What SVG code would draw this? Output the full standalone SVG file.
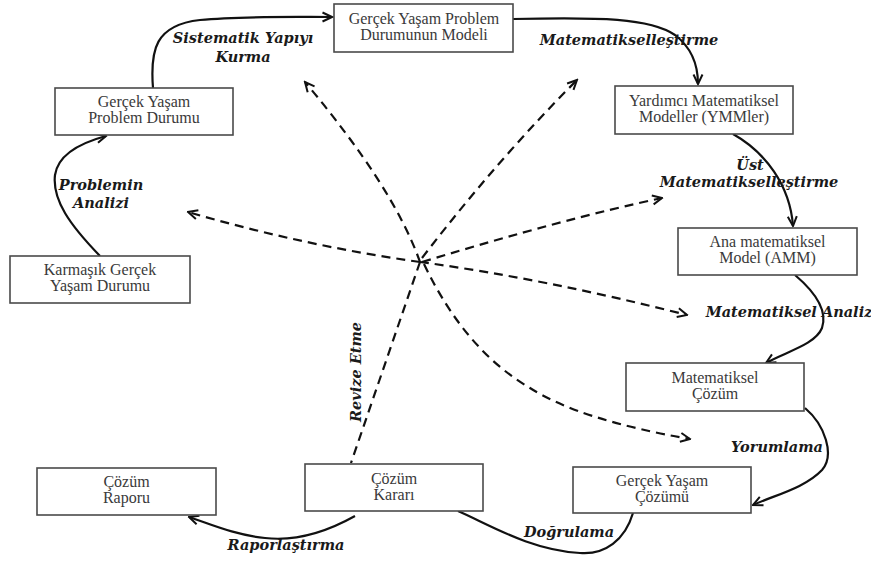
<svg xmlns="http://www.w3.org/2000/svg" width="871" height="561" viewBox="0 0 871 561">
<style>
.box{fill:#fff;stroke:#4a4a4a;stroke-width:1.6}
.bt{font-family:"Liberation Serif","Times New Roman",serif;font-size:16px;fill:#3a3a3a;text-anchor:middle}
.lb{font-family:"DejaVu Serif",serif;font-size:14.5px;font-weight:bold;font-style:italic;fill:#1a1a1a;text-anchor:middle}
.sc{fill:none;stroke:#111;stroke-width:2.2}
.dc{fill:none;stroke:#111;stroke-width:2.2;stroke-dasharray:9,6}
</style>
<defs>
<marker id="ah" viewBox="0 0 12 12" markerUnits="userSpaceOnUse" markerWidth="12" markerHeight="12" refX="10.5" refY="6" orient="auto">
<path d="M1,1.5 L10.5,6 L1,10.5" fill="none" stroke="#111" stroke-width="2"/>
</marker>
</defs>
<rect width="871" height="561" fill="#fff"/>
<g id="connectors">
<path class="sc" d="M153,88 C150,50 155,25 200,20 C240,16 290,17 332,17" marker-end="url(#ah)"/>
<path class="sc" d="M513,19 C600,17 650,18 675,35 C692,48 698,65 698,84" marker-end="url(#ah)"/>
<path class="sc" d="M733,134 C765,152 790,185 793,226" marker-end="url(#ah)"/>
<path class="sc" d="M795,275 C815,292 828,310 822,328 C815,345 785,352 766,363" marker-end="url(#ah)"/>
<path class="sc" d="M805,408 C825,425 835,455 822,470 C805,488 775,495 753,505" marker-end="url(#ah)"/>
<path class="sc" d="M633,513 C625,540 605,555 580,553 C530,550 490,525 458,511"/>
<path class="sc" d="M355,516 C330,530 300,542 265,538 C235,535 210,524 189,517" marker-end="url(#ah)"/>
<path class="sc" d="M100,256 C70,225 52,200 55,175 C58,155 80,143 106,136" marker-end="url(#ah)"/>
<path class="dc" d="M420,262 Q394,188 305,82" marker-end="url(#ah)"/>
<path class="dc" d="M422,258 Q498,159 577,80" marker-end="url(#ah)"/>
<path class="dc" d="M420,262 Q305,246 188,212" marker-end="url(#ah)"/>
<path class="dc" d="M422,262 Q567,218 662,198" marker-end="url(#ah)"/>
<path class="dc" d="M420,262 Q546,279 687,315" marker-end="url(#ah)"/>
<path class="dc" d="M424,264 Q465,350 530,388 Q580,420 690,439" marker-end="url(#ah)"/>
<path class="dc" d="M420,262 L351,463"/>
</g>
<g id="n1"><rect class="box" x="334" y="4" width="179" height="48"/><text class="bt" x="424" y="24">Gerçek Yaşam Problem</text><text class="bt" x="424" y="40">Durumunun Modeli</text></g>
<g id="n2"><rect class="box" x="55" y="88" width="178" height="47"/><text class="bt" x="144" y="107">Gerçek Yaşam</text><text class="bt" x="144" y="123">Problem Durumu</text></g>
<g id="n3"><rect class="box" x="615" y="86" width="178" height="48"/><text class="bt" x="704" y="105.5">Yardımcı Matematiksel</text><text class="bt" x="704" y="121.5">Modeller (YMMler)</text></g>
<g id="n4"><rect class="box" x="10" y="256" width="180" height="47"/><text class="bt" x="100" y="275">Karmaşık Gerçek</text><text class="bt" x="100" y="291">Yaşam Durumu</text></g>
<g id="n5"><rect class="box" x="678" y="228" width="179" height="47"/><text class="bt" x="767.5" y="246.5">Ana matematiksel</text><text class="bt" x="767.5" y="262.5">Model (AMM)</text></g>
<g id="n6"><rect class="box" x="626" y="363" width="178" height="48"/><text class="bt" x="715" y="382.5">Matematiksel</text><text class="bt" x="715" y="398.5">Çözüm</text></g>
<g id="n7"><rect class="box" x="573" y="467" width="178" height="46"/><text class="bt" x="662" y="485.5">Gerçek Yaşam</text><text class="bt" x="662" y="501.5">Çözümü</text></g>
<g id="n8"><rect class="box" x="305" y="464" width="178" height="47"/><text class="bt" x="394" y="483.5">Çözüm</text><text class="bt" x="394" y="499.5">Kararı</text></g>
<g id="n9"><rect class="box" x="37" y="468" width="179" height="47"/><text class="bt" x="126.5" y="487">Çözüm</text><text class="bt" x="126.5" y="503">Raporu</text></g>
<g id="labels">
<text class="lb" x="243" y="43">Sistematik Yapıyı</text>
<text class="lb" x="243" y="62">Kurma</text>
<text class="lb" x="629" y="45">Matematikselleştirme</text>
<text class="lb" x="750" y="170">Üst</text>
<text class="lb" x="749" y="187">Matematikselleştirme</text>
<text class="lb" x="101" y="190">Problemin</text>
<text class="lb" x="101" y="208">Analizi</text>
<text class="lb" x="789" y="317">Matematiksel Analiz</text>
<text class="lb" x="777" y="452">Yorumlama</text>
<text class="lb" x="569" y="537">Doğrulama</text>
<text class="lb" x="286" y="550">Raporlaştırma</text>
<text class="lb" transform="translate(361,372) rotate(-90)">Revize Etme</text>
</g>
</svg>
